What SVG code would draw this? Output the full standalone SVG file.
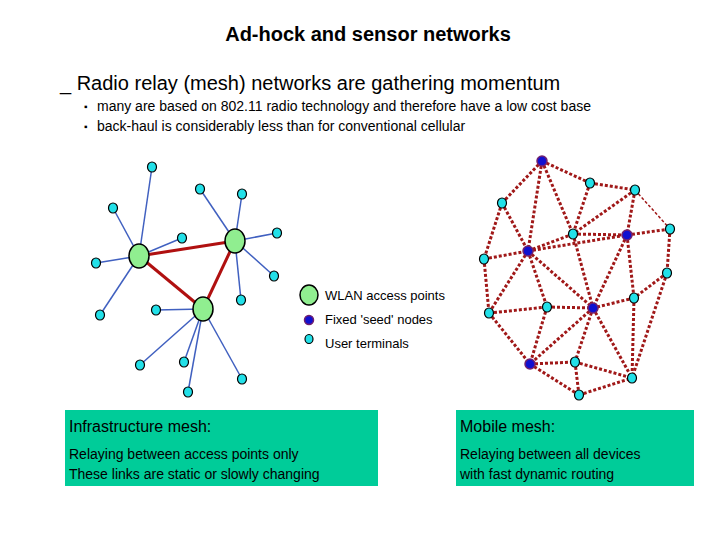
<svg xmlns="http://www.w3.org/2000/svg" width="720" height="540" viewBox="0 0 720 540">
<style>
text{font-family:"Liberation Sans",Arial,sans-serif;fill:#000}
.t{fill:#22e0e8;stroke:#000;stroke-width:1.2}
.s{fill:#1010d0;stroke:#702070;stroke-width:1.5}
.a{fill:#90ee90;stroke:#000;stroke-width:1.5}
.b{stroke:#4060c0;stroke-width:1.5}
.r{stroke:#b01010;stroke-width:3}
.d{stroke:#a01818;stroke-width:3;stroke-dasharray:3 2}
.box{fill:#00cc99}
</style>
<rect width="720" height="540" fill="#fff"/>
<text x="368" y="41" font-size="20" font-weight="bold" text-anchor="middle">Ad-hock and sensor networks</text>
<text x="60" y="90" font-size="20">_ Radio relay (mesh) networks are gathering momentum</text>
<text x="84" y="110" font-size="10">▪</text>
<text x="97" y="111" font-size="14">many are based on 802.11 radio technology and therefore have a low cost base</text>
<text x="84" y="130" font-size="10">▪</text>
<text x="97" y="131" font-size="14">back-haul is considerably less than for conventional cellular</text>
<g id="connectors">
<g class="b">
<line x1="139" y1="256" x2="152" y2="167"/><line x1="139" y1="256" x2="113" y2="208"/><line x1="139" y1="256" x2="182" y2="238"/><line x1="139" y1="256" x2="96" y2="263"/><line x1="139" y1="256" x2="100" y2="315"/>
<line x1="235" y1="241" x2="200" y2="189"/><line x1="235" y1="241" x2="242" y2="194"/><line x1="235" y1="241" x2="277" y2="233"/><line x1="235" y1="241" x2="274" y2="276"/><line x1="235" y1="241" x2="241" y2="300"/>
<line x1="203" y1="309" x2="156" y2="310"/><line x1="203" y1="309" x2="140" y2="365"/><line x1="203" y1="309" x2="184" y2="362"/><line x1="203" y1="309" x2="188" y2="392"/><line x1="203" y1="309" x2="242" y2="379"/>
</g>
<g class="r"><line x1="139" y1="256" x2="235" y2="241"/><line x1="139" y1="256" x2="203" y2="309"/><line x1="235" y1="241" x2="203" y2="309"/></g>
<g class="d">
<line x1="542" y1="161" x2="590" y2="183"/><line x1="590" y1="183" x2="635" y2="190"/><line x1="635" y1="190" x2="670" y2="229" stroke-width="1.5"/>
<line x1="542" y1="161" x2="502" y2="203"/><line x1="542" y1="161" x2="528" y2="251"/><line x1="542" y1="161" x2="573" y2="234"/>
<line x1="590" y1="183" x2="573" y2="234"/><line x1="635" y1="190" x2="573" y2="234"/><line x1="635" y1="190" x2="627" y2="235"/>
<line x1="502" y1="203" x2="528" y2="251"/><line x1="502" y1="203" x2="484" y2="259"/><line x1="484" y1="259" x2="528" y2="251"/><line x1="484" y1="259" x2="489" y2="313"/>
<line x1="528" y1="251" x2="573" y2="234"/><line x1="528" y1="251" x2="627" y2="235"/><line x1="573" y1="234" x2="627" y2="235"/><line x1="627" y1="235" x2="670" y2="229"/>
<line x1="670" y1="229" x2="667" y2="273"/><line x1="528" y1="251" x2="489" y2="313"/><line x1="528" y1="251" x2="547" y2="307"/><line x1="528" y1="251" x2="593" y2="308"/>
<line x1="573" y1="234" x2="593" y2="308"/><line x1="627" y1="235" x2="593" y2="308"/><line x1="627" y1="235" x2="634" y2="298"/><line x1="667" y1="273" x2="634" y2="298"/>
<line x1="634" y1="298" x2="593" y2="308"/><line x1="667" y1="273" x2="632" y2="378"/><line x1="634" y1="298" x2="632" y2="378"/>
<line x1="489" y1="313" x2="547" y2="307"/><line x1="547" y1="307" x2="593" y2="308"/><line x1="489" y1="313" x2="530" y2="364"/><line x1="547" y1="307" x2="530" y2="364"/>
<line x1="593" y1="308" x2="530" y2="364"/><line x1="593" y1="308" x2="575" y2="362"/><line x1="593" y1="308" x2="632" y2="378"/>
<line x1="530" y1="364" x2="575" y2="362"/><line x1="530" y1="364" x2="579" y2="395"/><line x1="575" y1="362" x2="632" y2="378"/><line x1="575" y1="362" x2="579" y2="395"/><line x1="579" y1="395" x2="632" y2="378"/>
</g>
</g>
<g id="left-mesh">
<g id="ap1"><ellipse class="a" cx="139" cy="256" rx="10" ry="12"/></g>
<g id="ap2"><ellipse class="a" cx="235" cy="241" rx="10" ry="12"/></g>
<g id="ap3"><ellipse class="a" cx="203" cy="309" rx="10" ry="12"/></g>
<g id="left-terminals">
<ellipse class="t" cx="152" cy="167" rx="4.5" ry="5"/><ellipse class="t" cx="113" cy="208" rx="4.5" ry="5"/><ellipse class="t" cx="182" cy="238" rx="4.5" ry="5"/><ellipse class="t" cx="96" cy="263" rx="4.5" ry="5"/><ellipse class="t" cx="100" cy="315" rx="4.5" ry="5"/>
<ellipse class="t" cx="200" cy="189" rx="4.5" ry="5"/><ellipse class="t" cx="242" cy="194" rx="4.5" ry="5"/><ellipse class="t" cx="277" cy="233" rx="4.5" ry="5"/><ellipse class="t" cx="274" cy="276" rx="4.5" ry="5"/><ellipse class="t" cx="241" cy="300" rx="4.5" ry="5"/>
<ellipse class="t" cx="156" cy="310" rx="4.5" ry="5"/><ellipse class="t" cx="140" cy="365" rx="4.5" ry="5"/><ellipse class="t" cx="184" cy="362" rx="4.5" ry="5"/><ellipse class="t" cx="188" cy="392" rx="4.5" ry="5"/><ellipse class="t" cx="242" cy="379" rx="4.5" ry="5"/>
</g>
</g>
<g id="right-mesh">
<g id="seeds"><circle class="s" cx="542" cy="161" r="5"/><circle class="s" cx="627" cy="235" r="5"/><circle class="s" cx="528" cy="251" r="5"/><circle class="s" cx="593" cy="308" r="5"/><circle class="s" cx="530" cy="364" r="5"/></g>
<g id="right-terminals">
<ellipse class="t" cx="590" cy="183" rx="4.5" ry="5"/><ellipse class="t" cx="635" cy="190" rx="4.5" ry="5"/><ellipse class="t" cx="502" cy="203" rx="4.5" ry="5"/><ellipse class="t" cx="573" cy="234" rx="4.5" ry="5"/><ellipse class="t" cx="670" cy="229" rx="4.5" ry="5"/><ellipse class="t" cx="484" cy="259" rx="4.5" ry="5"/><ellipse class="t" cx="667" cy="273" rx="4.5" ry="5"/><ellipse class="t" cx="634" cy="298" rx="4.5" ry="5"/><ellipse class="t" cx="489" cy="313" rx="4.5" ry="5"/><ellipse class="t" cx="547" cy="307" rx="4.5" ry="5"/><ellipse class="t" cx="575" cy="362" rx="4.5" ry="5"/><ellipse class="t" cx="632" cy="378" rx="4.5" ry="5"/><ellipse class="t" cx="579" cy="395" rx="4.5" ry="5"/>
</g>
</g>
<g id="legend">
<ellipse class="a" cx="309" cy="295" rx="9" ry="10"/><text x="325" y="300" font-size="13">WLAN access points</text>
<circle class="s" cx="309" cy="320" r="4.5"/><text x="325" y="324" font-size="13">Fixed 'seed' nodes</text>
<ellipse class="t" cx="309" cy="339" rx="4" ry="4.5"/><text x="325" y="348" font-size="13">User terminals</text>
</g>
<g id="infra-box">
<rect class="box" x="65" y="410" width="313" height="76"/>
<text x="69" y="432" font-size="16">Infrastructure mesh:</text>
<text x="69" y="459" font-size="14">Relaying between access points only</text>
<text x="69" y="479" font-size="14">These links are static or slowly changing</text>
</g>
<g id="mobile-box">
<rect class="box" x="456" y="410" width="238" height="76"/>
<text x="460" y="432" font-size="16">Mobile mesh:</text>
<text x="460" y="459" font-size="14">Relaying between all devices</text>
<text x="460" y="479" font-size="14">with fast dynamic routing</text>
</g>
</svg>
